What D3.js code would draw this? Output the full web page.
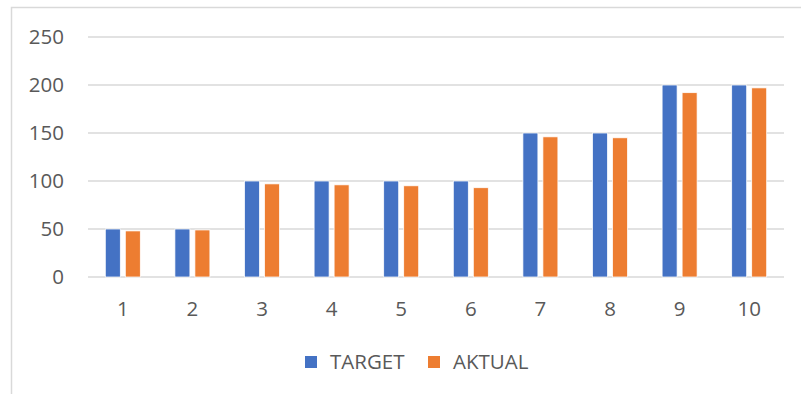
<!DOCTYPE html>
<html>
<head>
<meta charset="utf-8">
<script src="https://cdn.jsdelivr.net/npm/d3@7.9.0/dist/d3.min.js"></script>
<style>
  body { margin: 0; background: #fff; }
  svg { display: block; font-family: "Open Sans", "Noto Sans", sans-serif; }
</style>
</head>
<body>
<svg width="801" height="394"></svg>
<script>
const categories = ['1', '2', '3', '4', '5', '6', '7', '8', '9', '10'];
const target = [50, 50, 100, 100, 100, 100, 150, 150, 200, 200];
const aktual = [48, 49, 97, 96, 95, 93, 146, 145, 192, 197];
const yTicks = [0, 50, 100, 150, 200, 250];
const seriesNames = ['TARGET', 'AKTUAL'];
const colors = ['#4472C4', '#ED7D31'];

const svg = d3.select('svg');

// chart frame
svg.append('path')
    .attr('d', 'M11.5,394 V7.5 H801')
    .attr('fill', 'none')
    .attr('stroke', '#d9d9d9')
    .attr('stroke-width', 1.5);

let x = d3.scaleBand().domain(categories).range([88, 784]);
let y = d3.scaleLinear().domain([0, 250]).range([277, 37]);
let inner = d3.scaleBand().domain(seriesNames).range([0, 35]).paddingInner(0.25);

// gridlines
svg.append('g')
    .selectAll('line')
    .data(yTicks)
    .join('line')
    .attr('x1', 88).attr('x2', 784)
    .attr('y1', d => y(d)).attr('y2', d => y(d))
    .attr('stroke', '#d9d9d9')
    .attr('stroke-width', 1.5);

// y axis labels
svg.append('g')
    .selectAll('text')
    .data(yTicks)
    .join('text')
    .attr('x', 64)
    .attr('y', d => y(d))
    .attr('dy', '0.35em')
    .attr('text-anchor', 'end')
    .attr('font-size', 20.5)
    .attr('fill', '#595959')
    .text(d => d);

// x axis labels
svg.append('g')
    .selectAll('text')
    .data(categories)
    .join('text')
    .attr('x', d => x(d) + x.bandwidth() / 2)
    .attr('y', 309)
    .attr('dy', '0.35em')
    .attr('text-anchor', 'middle')
    .attr('font-size', 20.5)
    .attr('fill', '#595959')
    .text(d => d);

// bars
const data = [target, aktual];
const groups = svg.append('g')
    .selectAll('g')
    .data(categories)
    .join('g')
    .attr('transform', d => `translate(${x(d) + x.bandwidth() / 2 - 17.5},0)`);

groups.selectAll('rect')
    .data((d, i) => seriesNames.map((s, k) => ({ s, k, v: data[k][i] })))
    .join('rect')
    .attr('x', d => inner(d.s))
    .attr('width', inner.bandwidth())
    .attr('y', d => y(d.v))
    .attr('height', d => y(0) - y(d.v))
    .attr('fill', d => colors[d.k])
    .attr('stroke', '#fff')
    .attr('stroke-width', 0.75);

// legend
const legendPos = [305, 428];
const legend = svg.append('g')
    .selectAll('g')
    .data(seriesNames)
    .join('g')
    .attr('transform', (d, i) => `translate(${legendPos[i]},362)`);

legend.append('rect')
    .attr('x', 0).attr('y', -6)
    .attr('width', 12).attr('height', 12)
    .attr('fill', (d, i) => colors[i]);

legend.append('text')
    .attr('x', 25)
    .attr('dy', '0.35em')
    .attr('font-size', 20.5)
    .attr('fill', '#595959')
    .text(d => d);
</script>
</body>
</html>
